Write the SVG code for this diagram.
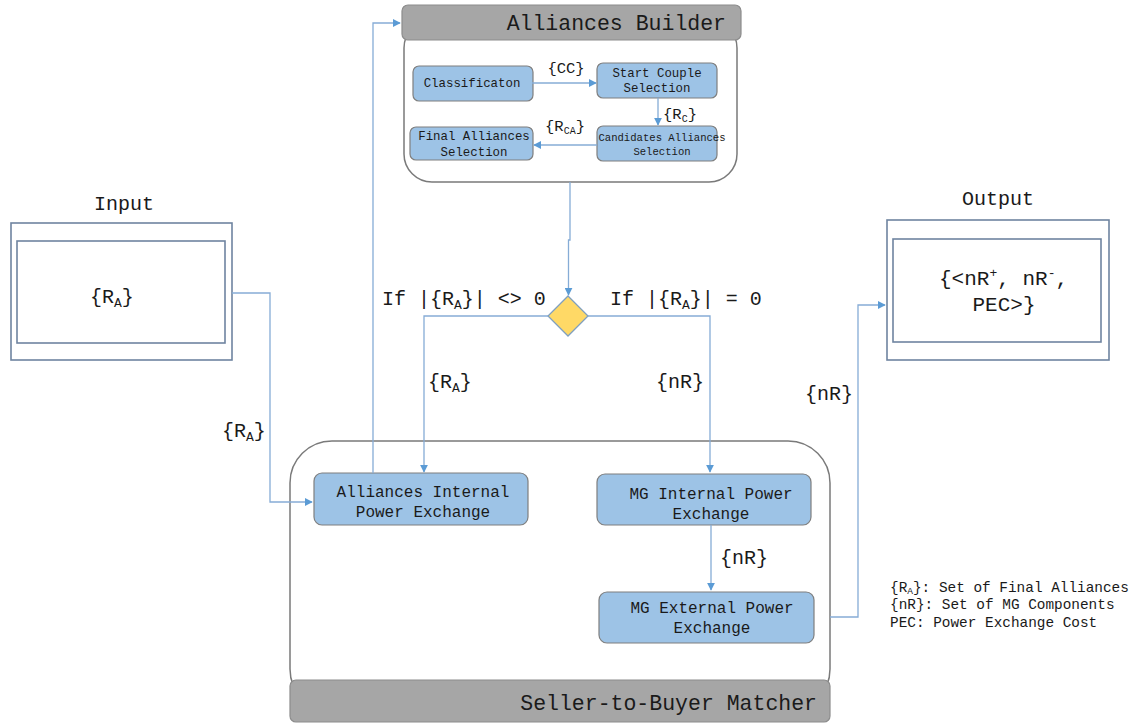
<svg xmlns="http://www.w3.org/2000/svg" width="1140" height="725" viewBox="0 0 1140 725">
<defs>
<marker id="arr" viewBox="0 0 10 10" refX="9" refY="5" markerWidth="8" markerHeight="8" markerUnits="userSpaceOnUse" orient="auto">
<path d="M0,0 L10,5 L0,10 z" fill="#5b9bd5"/>
</marker>
<style>
text{font-family:"Liberation Mono","Courier New",monospace;fill:#1a1a1a}
.cont{fill:#fff;stroke:#7a7a7a;stroke-width:1.5}
.head{fill:#a6a6a6;stroke:#8c8c8c;stroke-width:1.2}
.title{font-size:21.5px;text-anchor:end}
.node{fill:#9dc3e6;stroke:#7f7f7f;stroke-width:1.2}
.sm{font-size:12.4px;text-anchor:middle}
.xs{font-size:10.6px;text-anchor:middle}
.md{font-size:16px;text-anchor:middle}
.lbl{font-size:15.5px;text-anchor:middle}
.big{font-size:20px}
.io{fill:#fff;stroke:#6f84a0;stroke-width:1.6}
.con{fill:none;stroke:#86acd6;stroke-width:1.3}
.leg{font-size:14.4px}
</style>
</defs>

<g id="alliances-builder">
<rect class="cont" x="404" y="20" width="333" height="162" rx="28"/>
<rect class="head" x="402" y="5" width="339" height="35" rx="6"/>
<text class="title" x="726" y="30">Alliances Builder</text>
</g>
<g id="classification">
<rect class="node" x="413" y="66" width="120" height="35" rx="6"/>
<text class="sm" x="472" y="87">Classificaton</text>
</g>
<g id="start-couple">
<rect class="node" x="597" y="63" width="120" height="35" rx="6"/>
<text class="sm" x="657" y="77">Start Couple</text>
<text class="sm" x="657" y="92">Selection</text>
</g>
<g id="candidates">
<rect class="node" x="597" y="126" width="120" height="35" rx="6"/>
<text class="xs" x="662" y="141">Candidates Alliances</text>
<text class="xs" x="662" y="155">Selection</text>
</g>
<g id="final-alliances">
<rect class="node" x="410" y="127" width="123" height="33" rx="6"/>
<text class="sm" x="474" y="140">Final Alliances</text>
<text class="sm" x="474" y="156">Selection</text>
</g>

<g id="decision">
<polygon points="568,296 588,316 568,336 548,316" fill="#ffd966" stroke="#7f9fbf" stroke-width="1.3"/>
</g>

<g id="input">
<text class="big" x="124" y="210" text-anchor="middle">Input</text>
<rect class="io" x="11" y="223" width="221" height="137"/>
<rect class="io" x="17" y="241" width="208" height="102"/>
<text class="big" x="90" y="303">{R<tspan font-size="13" dy="4">A</tspan><tspan dy="-4">}</tspan></text>
</g>

<g id="output">
<text class="big" x="998" y="205" text-anchor="middle">Output</text>
<rect class="io" x="887" y="220" width="222" height="140"/>
<rect class="io" x="893" y="239" width="208" height="103"/>
<text class="big" x="939" y="285" style="font-size:21px">{&lt;nR<tspan font-size="13" dy="-8">+</tspan><tspan dy="8">, nR</tspan><tspan font-size="13" dy="-8">-</tspan><tspan dy="8">,</tspan></text>
<text class="big" x="1004" y="311" text-anchor="middle" style="font-size:21px">PEC&gt;}</text>
</g>

<g id="seller-to-buyer">
<rect class="cont" x="290" y="441" width="540" height="270" rx="42"/>
<rect class="head" x="290" y="680" width="540" height="42" rx="6"/>
<text class="title" x="817" y="710">Seller-to-Buyer Matcher</text>
</g>
<g id="alliances-internal">
<rect class="node" x="314" y="473" width="214" height="52" rx="8"/>
<text class="md" x="423" y="497">Alliances Internal</text>
<text class="md" x="423" y="517">Power Exchange</text>
</g>
<g id="mg-internal">
<rect class="node" x="597" y="474" width="214" height="51" rx="8"/>
<text class="md" x="711" y="499">MG Internal Power</text>
<text class="md" x="711" y="519">Exchange</text>
</g>
<g id="mg-external">
<rect class="node" x="599" y="592" width="215" height="51" rx="8"/>
<text class="md" x="712" y="613">MG External Power</text>
<text class="md" x="712" y="633">Exchange</text>
</g>

<g id="legend">
<text class="leg" x="890" y="592">{R<tspan font-size="9.5" dy="2">A</tspan><tspan dy="-2">}: Set of Final Alliances</tspan></text>
<text class="leg" x="890" y="609">{nR}: Set of MG Components</text>
<text class="leg" x="890" y="627">PEC: Power Exchange Cost</text>
</g>

<g id="connectors">
<path class="con" d="M532 83 H596" marker-end="url(#arr)"/>
<path class="con" d="M658 98 V125" marker-end="url(#arr)"/>
<path class="con" d="M597 145 H534" marker-end="url(#arr)"/>
<path class="con" d="M570 182 V240 H568.5 V295" marker-end="url(#arr)"/>
<path class="con" d="M548 316 H424 V472" marker-end="url(#arr)"/>
<path class="con" d="M588 316 H710 V472" marker-end="url(#arr)"/>
<path class="con" d="M232 293 H270 V502 H312" marker-end="url(#arr)"/>
<path class="con" d="M373 473 V23 H400" marker-end="url(#arr)"/>
<path class="con" d="M711 525 V590" marker-end="url(#arr)"/>
<path class="con" d="M830 617 H858 V305 H885" marker-end="url(#arr)"/>
<text class="lbl" x="566" y="73">{CC}</text>
<text class="lbl" x="680" y="119">{R<tspan font-size="10" dy="3">C</tspan><tspan dy="-3">}</tspan></text>
<text class="lbl" x="565" y="131">{R<tspan font-size="10" dy="3">CA</tspan><tspan dy="-3">}</tspan></text>
<text class="big" x="382" y="305">If |{R<tspan font-size="13" dy="4">A</tspan><tspan dy="-4">}| &lt;&gt; 0</tspan></text>
<text class="big" x="610" y="305">If |{R<tspan font-size="13" dy="4">A</tspan><tspan dy="-4">}| = 0</tspan></text>
<text class="big" x="428" y="388">{R<tspan font-size="13" dy="4">A</tspan><tspan dy="-4">}</tspan></text>
<text class="big" x="656" y="388">{nR}</text>
<text class="big" x="222" y="437">{R<tspan font-size="13" dy="4">A</tspan><tspan dy="-4">}</tspan></text>
<text class="big" x="805" y="400">{nR}</text>
<text class="big" x="720" y="564">{nR}</text>
</g>
</svg>
